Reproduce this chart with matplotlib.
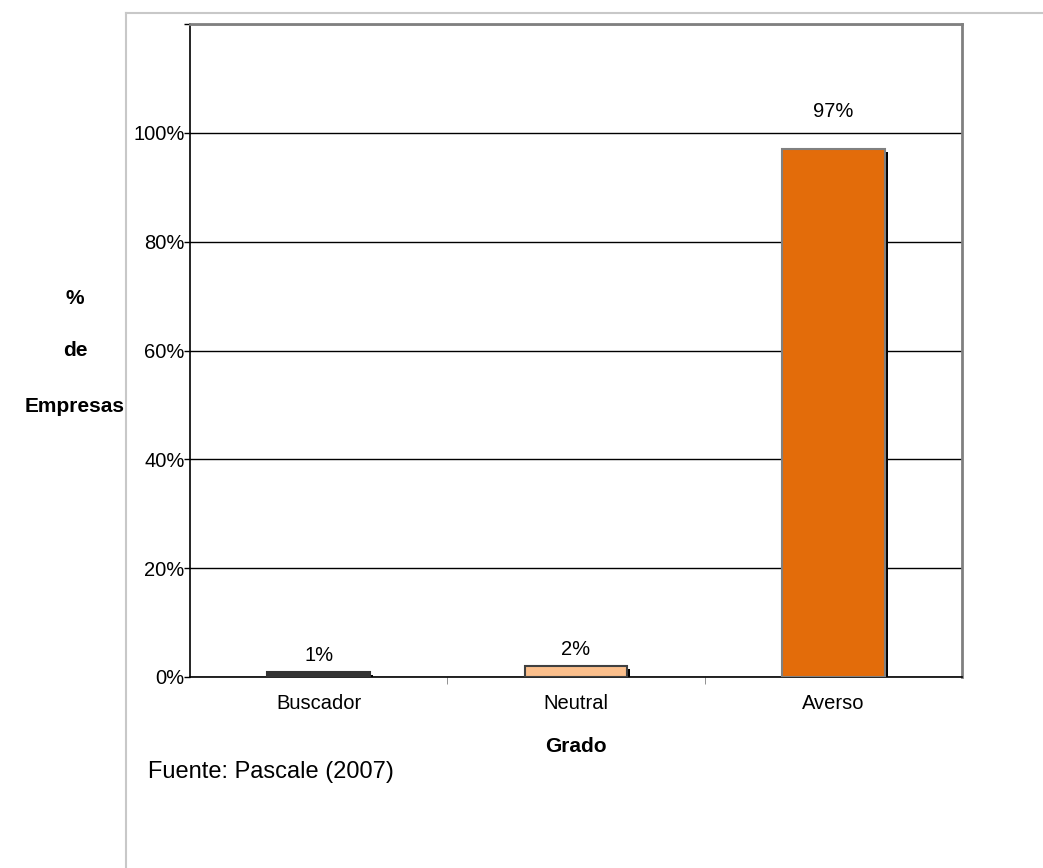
import numpy as np
import matplotlib.pyplot as plt
from matplotlib.lines import Line2D

categories = ["Buscador", "Neutral", "Averso"]
values = [1, 2, 97]
colors = ["#333333", "#FBBF8C", "#E36C0A"]
edges = ["#333333", "#404040", "#808080"]
label_offsets = [3.0, 3.0, 7.0]

plt.rcParams["font.family"] = ["Liberation Sans", "DejaVu Sans"]

fig = plt.figure(figsize=(10.43, 8.68), dpi=100)
ax = fig.add_axes([190 / 1043, 1 - 677 / 868, (962 - 190) / 1043, (677 - 24) / 868])

x = np.arange(len(categories))
w = 0.4
# shadow, offset ~3px right and down
dx = 3 / 257.0
dy = 3 / 5.44
ax.bar(x + dx, np.array(values) - dy, bottom=0, width=w, color="black", zorder=2)
ax.bar(x, values, width=w, color=colors, edgecolor=edges, linewidth=1.5, zorder=3)

for xi, v, off in zip(x, values, label_offsets):
    ax.text(xi, v + off, f"{v}%", ha="center", va="center", fontsize=14.5, zorder=4)

ax.set_xlim(-0.5, 2.5)
ax.set_ylim(0, 120)
ax.set_yticks(np.arange(0, 121, 20))
ax.set_yticklabels([f"{t}%" for t in range(0, 101, 20)] + [""], fontsize=14.5)
ax.yaxis.grid(True, color="black", linewidth=1)
ax.set_axisbelow(True)

ax.set_xticks(x)
ax.set_xticklabels(categories, fontsize=14.5)
ax.tick_params(axis="x", length=0, pad=12)
ax.set_xticks([0.5, 1.5], minor=True)
ax.tick_params(axis="x", which="minor", length=5, color="#808080")
ax.tick_params(axis="y", length=4, width=1, pad=0)

for s in ["left", "bottom"]:
    ax.spines[s].set_color("black")
    ax.spines[s].set_linewidth(1.2)
for s in ["top", "right"]:
    ax.spines[s].set_color("#808080")
    ax.spines[s].set_linewidth(2)

# y-axis label as three stacked words
fig.text(75 / 1043, 1 - 298 / 868, "%", ha="center", va="center", fontsize=15, fontweight="bold")
fig.text(75 / 1043, 1 - 350 / 868, "de", ha="center", va="center", fontsize=15, fontweight="bold")
fig.text(75 / 1043, 1 - 406 / 868, "Empresas", ha="center", va="center", fontsize=15, fontweight="bold")

fig.text(576 / 1043, 1 - 746 / 868, "Grado", ha="center", va="center", fontsize=15, fontweight="bold")
fig.text(148 / 1043, 1 - 772 / 868, "Fuente: Pascale (2007)", ha="left", va="center", fontsize=17)

# light outer frame
fig.add_artist(Line2D([126 / 1043, 126 / 1043], [0, 1 - 13 / 868], color="#C8C8C8", lw=1.5))
fig.add_artist(Line2D([126 / 1043, 1], [1 - 13 / 868, 1 - 13 / 868], color="#C8C8C8", lw=1.5))

fig.savefig("out.png", dpi=100)
